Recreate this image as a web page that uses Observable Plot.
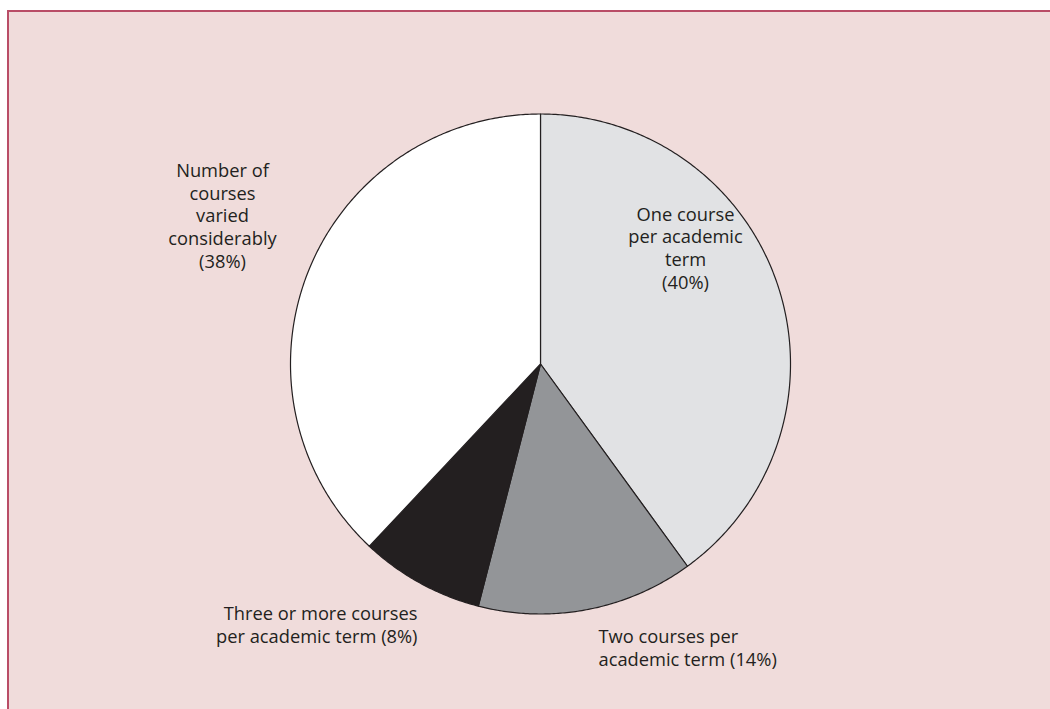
<!DOCTYPE html>
<html>
<head>
<meta charset="utf-8">
<script src="https://cdn.jsdelivr.net/npm/d3@7"></script>
<script src="https://cdn.jsdelivr.net/npm/@observablehq/plot@0.6"></script>
<style>
  html, body { margin: 0; padding: 0; background: #ffffff; }
  #wrap { position: relative; width: 1050px; height: 709px; overflow: hidden; }
  #panel { position: absolute; left: 7px; top: 10px; width: 1043px; height: 699px;
           box-sizing: border-box; background: #f0dcdb;
           border-top: 2px solid #b94d67; border-left: 2px solid #b94d67; }
  #chart { position: absolute; left: 0; top: 0; }
  #chart svg { background: transparent; display: block; }
</style>
</head>
<body>
<div id="wrap">
  <div id="panel"></div>
  <div id="chart"></div>
</div>
<script>
// Data
const categories = [
  "One course per academic term",
  "Two courses per academic term",
  "Three or more courses per academic term",
  "Number of courses varied considerably"
];
const shares = [40, 14, 8, 38];
const colors = ["#e1e2e4", "#939598", "#231f20", "#ffffff"];
const labels = [
  "One course\nper academic\nterm\n(40%)",
  "Two courses per\nacademic term (14%)",
  "Three or more courses\nper academic term (8%)",
  "Number of\ncourses\nvaried\nconsiderably\n(38%)"
];

// Layout (label anchors in unit-radius coordinates)
const labelLayout = [
  {x: 0.58, y: 0.466, anchor: "middle"},
  {x: 0.232, y: -1.134, anchor: "start"},
  {x: -0.492, y: -1.04, anchor: "end"},
  {x: -1.272, y: 0.596, anchor: "middle"}
];

const arcs = d3.pie().sort(null).startAngle(0).endAngle(2 * Math.PI)(shares);
const step = Math.PI / 360;
const points = [];
arcs.forEach((a, i) => {
  points.push({key: i, x: 0, y: 0, color: colors[i]});
  const n = Math.max(2, Math.ceil((a.endAngle - a.startAngle) / step));
  for (let k = 0; k <= n; k++) {
    const t = a.startAngle + (a.endAngle - a.startAngle) * k / n;
    points.push({key: i, x: Math.sin(t), y: Math.cos(t), color: colors[i]});
  }
  points.push({key: i, x: 0, y: 0, color: colors[i]});
});

const labelData = labels.map((t, i) => ({text: t, ...labelLayout[i]}));

const plot = Plot.plot({
  width: 1050,
  height: 709,
  margin: 0,
  style: {background: "transparent", fontFamily: "'Open Sans', sans-serif"},
  x: {domain: [-2.16, 2.04], range: [0, 1050], axis: null},
  y: {domain: [-1.382, 1.454], range: [709, 0], axis: null},
  color: {type: "identity"},
  marks: [
    Plot.line(points, {x: "x", y: "y", z: "key", fill: "color", stroke: "#231f20", strokeWidth: 1.2, strokeLinejoin: "round"}),
    ...["middle", "start", "end"].map(anc =>
      Plot.text(labelData.filter(d => d.anchor === anc), {
        x: "x", y: "y", text: "text", textAnchor: anc, lineAnchor: "middle",
        fontSize: 18.3, lineHeight: 1.245, fill: "#231f20"
      })
    )
  ]
});
document.getElementById("chart").appendChild(plot);
</script>
</body>
</html>
